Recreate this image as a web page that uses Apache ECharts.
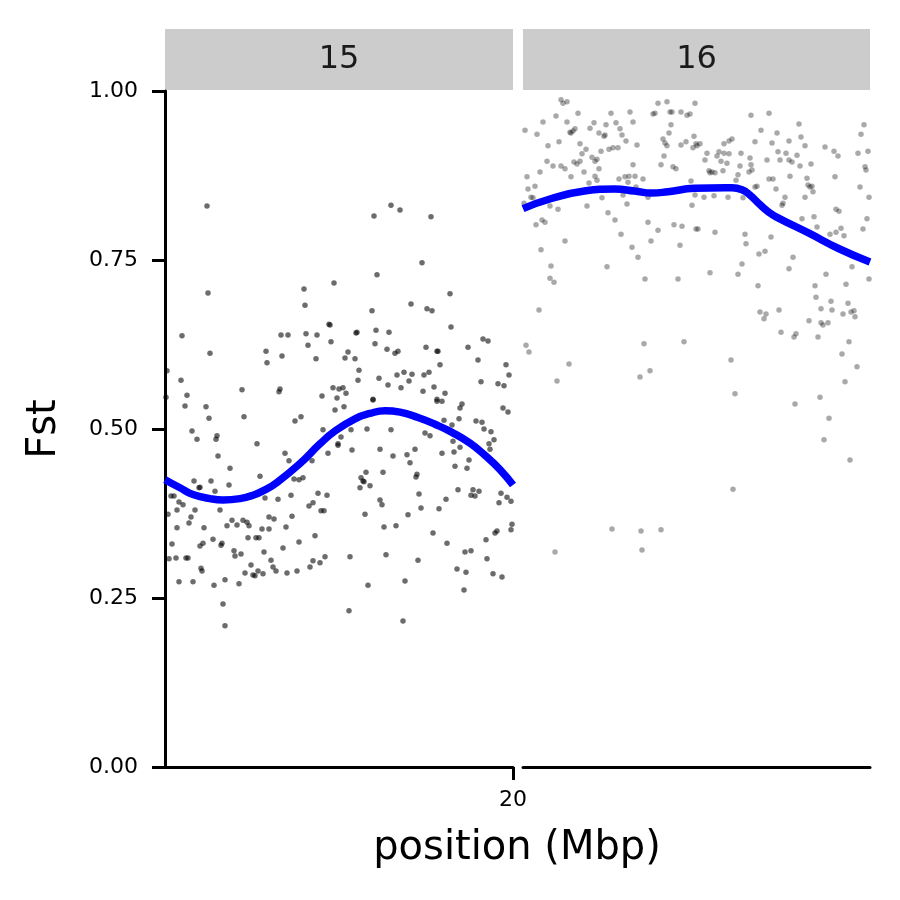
<!DOCTYPE html>
<html><head><meta charset="utf-8">
<script src="https://cdn.jsdelivr.net/npm/echarts@6/dist/echarts.min.js"></script>
<style>html,body{margin:0;padding:0;background:#fff}#c{width:900px;height:900px}</style>
</head><body><div id="c"></div>
<script>
// ---- data ----
const panels = ['15', '16'];
const yTicks = [0, 0.25, 0.5, 0.75, 1];
const xTicks15 = [20];
const xTitle = 'position (Mbp)';
const yTitle = 'Fst';

const pos15 = [19.388,19.390,19.582,19.642,19.584,19.338,19.394,19.536,19.550,19.586,19.608,19.632,19.634,19.590,19.636,19.506,19.508,19.538,19.606,19.308,
19.336,19.348,19.458,19.534,19.532,19.640,19.652,19.618,19.648,19.344,19.386,19.306,19.644,19.756,19.774,19.722,19.836,19.818,19.728,19.874,
19.796,19.718,19.828,19.838,19.876,19.686,19.688,19.726,19.752,19.724,19.748,19.764,19.770,19.826,19.848,19.850,19.854,19.940,19.950,19.910,
19.930,19.986,19.992,19.670,19.664,19.684,19.692,19.690,19.732,19.768,19.782,19.798,19.792,19.750,19.776,19.822,19.832,19.842,19.820,19.864,
19.848,19.858,19.936,19.970,19.982,19.660,19.666,19.720,19.662,19.898,19.894,19.980,19.392,19.462,19.564,19.576,19.358,19.368,19.408,19.406,
19.488,19.620,19.650,19.544,19.552,19.630,19.410,19.434,19.598,19.494,19.562,19.580,19.572,19.362,19.396,19.432,19.372,19.374,19.404,19.316,
19.322,19.504,19.530,19.556,19.610,19.628,19.592,19.600,19.332,19.340,19.364,19.310,19.328,19.414,19.616,19.622,19.356,19.352,19.328,19.382,
19.428,19.438,19.448,19.460,19.468,19.472,19.512,19.522,19.558,19.498,19.512,19.546,19.470,19.486,19.492,19.604,19.318,19.400,19.374,19.380,
19.416,19.418,19.572,19.540,19.312,19.326,19.346,19.350,19.442,19.444,19.456,19.502,19.516,19.600,19.614,19.624,19.376,19.378,19.476,19.520,
19.526,19.594,19.464,19.480,19.484,19.490,19.500,19.548,19.568,19.332,19.360,19.402,19.424,19.452,19.420,19.424,19.720,19.848,19.990,19.676,
19.708,19.756,19.656,19.650,19.678,19.734,19.760,19.788,19.804,19.794,19.824,19.834,19.862,19.878,19.892,19.926,19.938,19.942,19.956,19.962,
19.952,19.954,19.880,19.894,19.858,19.882,19.912,19.884,19.908,19.706,19.740,19.696,19.700,19.702,19.694,19.714,19.808,19.806,19.734,19.738,
19.812,19.866,19.890,19.920,19.916,19.924,19.932,19.976,19.988,19.972,19.996,19.704,19.816,19.790,19.852,19.742,19.766,19.840,19.868,19.946,
19.964,19.968,19.998,19.996,19.674,19.746,19.810,19.904,19.916,19.948,19.888,19.906,19.960,19.978,19.710,19.784,19.902,19.672,19.780];
const fst15 = [0.830,0.701,0.707,0.716,0.683,0.638,0.612,0.639,0.639,0.641,0.639,0.655,0.654,0.624,0.629,0.615,0.598,0.608,0.604,0.586,
0.572,0.550,0.558,0.559,0.555,0.561,0.559,0.549,0.546,0.534,0.533,0.547,0.528,0.831,0.824,0.815,0.814,0.746,0.728,0.700,
0.685,0.675,0.678,0.675,0.651,0.642,0.643,0.646,0.643,0.626,0.618,0.612,0.615,0.621,0.615,0.615,0.595,0.633,0.630,0.621,
0.602,0.595,0.580,0.614,0.605,0.604,0.587,0.572,0.575,0.580,0.584,0.581,0.571,0.565,0.561,0.580,0.584,0.562,0.556,0.553,
0.544,0.541,0.570,0.567,0.564,0.561,0.553,0.544,0.533,0.537,0.531,0.531,0.516,0.518,0.512,0.518,0.497,0.485,0.490,0.485,
0.478,0.499,0.478,0.464,0.453,0.464,0.460,0.442,0.453,0.430,0.426,0.428,0.425,0.423,0.423,0.417,0.413,0.414,0.408,0.401,
0.401,0.398,0.396,0.402,0.405,0.402,0.386,0.391,0.392,0.388,0.380,0.374,0.380,0.380,0.379,0.379,0.370,0.361,0.354,0.354,
0.357,0.365,0.358,0.365,0.362,0.357,0.370,0.367,0.371,0.352,0.352,0.355,0.339,0.339,0.339,0.342,0.330,0.337,0.327,0.331,
0.328,0.331,0.333,0.324,0.308,0.309,0.309,0.309,0.320,0.312,0.315,0.318,0.306,0.305,0.302,0.311,0.294,0.290,0.299,0.296,
0.290,0.296,0.287,0.284,0.283,0.290,0.286,0.287,0.290,0.274,0.274,0.269,0.277,0.271,0.241,0.209,0.543,0.541,0.525,0.499,
0.500,0.499,0.488,0.476,0.469,0.470,0.460,0.462,0.470,0.450,0.494,0.490,0.513,0.506,0.515,0.512,0.510,0.500,0.496,0.484,
0.478,0.470,0.482,0.473,0.464,0.466,0.454,0.445,0.442,0.436,0.436,0.428,0.423,0.422,0.413,0.416,0.433,0.429,0.395,0.388,
0.404,0.396,0.410,0.410,0.402,0.401,0.408,0.405,0.399,0.391,0.393,0.374,0.383,0.373,0.382,0.355,0.357,0.346,0.331,0.336,
0.346,0.349,0.359,0.351,0.311,0.314,0.306,0.318,0.320,0.308,0.293,0.288,0.286,0.281,0.269,0.275,0.262,0.231,0.216];

const pos16 = [10.176,10.188,10.180,10.370,10.388,10.444,10.166,10.210,10.276,10.314,10.364,10.360,10.394,10.398,10.416,10.428,10.434,10.140,10.188,10.242,
10.234,10.266,10.286,10.294,10.320,10.396,10.104,10.128,10.196,10.204,10.200,10.194,10.252,10.262,10.264,10.298,10.306,10.392,10.380,10.384,
10.388,10.442,10.446,10.426,10.416,10.172,10.214,10.150,10.226,10.218,10.328,10.272,10.280,10.290,10.256,10.440,10.382,10.238,10.248,10.244,
10.148,10.160,10.176,10.184,10.202,10.208,10.214,10.222,10.252,10.320,10.376,10.400,10.406,10.134,10.108,10.196,10.244,10.248,10.292,10.304,
10.312,10.324,10.310,10.340,10.124,10.110,10.232,10.326,10.436,10.116,10.120,10.258,10.300,10.350,10.444,10.102,10.308,10.154,10.170,10.228,
10.438,10.270,10.126,10.138,10.144,10.284,10.350,10.402,10.418,10.446,10.296,10.370,10.184,10.356,10.414,10.318,10.136,10.330,10.156,10.268,
10.154,10.162,10.344,10.410,10.556,10.592,10.652,10.782,10.776,10.576,10.608,10.656,10.518,10.512,10.502,10.564,10.598,10.632,10.664,10.454,
10.448,10.704,10.722,10.730,10.790,10.770,10.468,10.464,10.492,10.502,10.512,10.488,10.536,10.554,10.610,10.626,10.648,10.588,10.614,10.632,
10.638,10.496,10.508,10.556,10.558,10.552,10.534,10.654,10.676,10.784,10.786,10.472,10.478,10.484,10.474,10.500,10.530,10.526,10.634,10.592,
10.600,10.668,10.724,10.568,10.564,10.670,10.674,10.678,10.606,10.774,10.680,10.442,10.462,10.482,10.510,10.540,10.624,10.620,10.618,10.664,
10.792,10.726,10.732,10.658,10.682,10.688,10.788,10.450,10.484,10.544,10.596,10.714,10.726,10.736,10.742,10.780,10.546,10.584,10.572,10.640,
10.538,10.632,10.758,10.474,10.530,10.706,10.792,10.570,10.684,10.746,10.132,10.686,10.716,10.718,10.750,10.574,10.586,10.582,10.612,10.696,
10.740,10.756,10.762,10.764,10.672,10.696,10.700,10.710,10.616,10.642,10.646,10.690,10.752,10.106,10.112,10.342,10.422,10.738,10.192,10.516,
10.768,10.168,10.334,10.354,10.744,10.524,10.644,10.694,10.712,10.702,10.754,10.520,10.278,10.336,10.376,10.164,10.338];
const fst16 = [0.987,0.984,0.982,0.982,0.984,0.982,0.963,0.967,0.967,0.969,0.967,0.966,0.969,0.969,0.969,0.964,0.966,0.954,0.954,0.953,
0.945,0.950,0.953,0.944,0.954,0.950,0.942,0.936,0.938,0.944,0.941,0.939,0.938,0.933,0.935,0.935,0.926,0.938,0.929,0.923,
0.919,0.933,0.922,0.925,0.920,0.925,0.922,0.919,0.914,0.907,0.920,0.914,0.916,0.916,0.911,0.916,0.904,0.902,0.899,0.896,
0.896,0.889,0.889,0.885,0.895,0.892,0.896,0.880,0.885,0.891,0.891,0.888,0.885,0.880,0.873,0.873,0.874,0.868,0.870,0.873,
0.874,0.874,0.865,0.870,0.859,0.855,0.864,0.858,0.867,0.843,0.842,0.842,0.846,0.843,0.846,0.834,0.833,0.830,0.825,0.830,
0.831,0.820,0.802,0.809,0.806,0.809,0.806,0.802,0.800,0.796,0.788,0.794,0.778,0.778,0.772,0.769,0.765,0.754,0.741,0.740,
0.723,0.717,0.722,0.722,0.964,0.967,0.951,0.950,0.936,0.942,0.938,0.932,0.929,0.926,0.922,0.925,0.923,0.926,0.919,0.922,
0.919,0.917,0.911,0.904,0.911,0.908,0.908,0.898,0.910,0.908,0.907,0.904,0.908,0.901,0.910,0.908,0.905,0.898,0.898,0.898,
0.895,0.896,0.893,0.891,0.883,0.880,0.889,0.889,0.892,0.888,0.883,0.882,0.880,0.879,0.879,0.882,0.876,0.868,0.874,0.870,
0.870,0.871,0.873,0.859,0.858,0.861,0.858,0.859,0.855,0.858,0.851,0.855,0.843,0.845,0.843,0.842,0.843,0.834,0.831,0.843,
0.843,0.825,0.822,0.811,0.814,0.799,0.811,0.796,0.791,0.788,0.784,0.788,0.791,0.797,0.786,0.796,0.774,0.763,0.759,0.754,
0.744,0.737,0.740,0.731,0.729,0.729,0.722,0.712,0.712,0.714,0.676,0.695,0.689,0.676,0.686,0.673,0.670,0.663,0.676,0.678,
0.670,0.673,0.675,0.666,0.660,0.657,0.654,0.657,0.643,0.636,0.641,0.636,0.629,0.624,0.614,0.626,0.629,0.611,0.596,0.602,
0.592,0.571,0.577,0.586,0.570,0.552,0.537,0.547,0.516,0.484,0.454,0.411,0.352,0.349,0.351,0.318,0.321];

// loess curves
const smoothPos15 = [19.304,19.334,19.360,19.394,19.420,19.454,19.480,19.504,19.528,19.574,19.614,19.644,19.684,19.714,19.744,19.774,19.810,19.844,19.878,19.914,19.944,19.974,20.000];
const smoothFst15 = [0.425,0.413,0.403,0.397,0.395,0.397,0.402,0.410,0.421,0.449,0.478,0.497,0.515,0.523,0.527,0.525,0.517,0.507,0.495,0.479,0.461,0.440,0.417];
const smoothPos16 = [10.100,10.157,10.223,10.283,10.323,10.357,10.390,10.443,10.505,10.518,10.538,10.554,10.571,10.591,10.611,10.671,10.731,10.794];
const smoothFst16 = [0.826,0.841,0.852,0.855,0.852,0.849,0.851,0.856,0.857,0.857,0.854,0.846,0.834,0.821,0.812,0.790,0.767,0.747];

// ---- chart ----
const FONT = 'DejaVu Sans';
const zip = (a, b) => a.map((v, i) => [v, b[i]]);
const G = [
  { left: 165, top: 91, width: 348, height: 676 },
  { left: 523, top: 91, width: 347, height: 676 }
];
const axisLineStyle = { color: '#000', width: 3 };

const chart = echarts.init(document.getElementById('c'), null, { renderer: 'canvas' });
const option = {
  animation: false,
  backgroundColor: '#fff',
  grid: G.map(g => Object.assign({ containLabel: false }, g)),
  xAxis: [
    {
      gridIndex: 0, type: 'value', min: 19.304, max: 20,
      axisLine: { show: true, onZero: false, lineStyle: axisLineStyle },
      axisTick: { show: true, customValues: xTicks15, length: 13, lineStyle: axisLineStyle },
      axisLabel: { show: true, customValues: xTicks15, fontSize: 22, color: '#000', fontFamily: FONT, margin: 22,
        formatter: v => String(Math.round(v)) },
      splitLine: { show: false }
    },
    {
      gridIndex: 1, type: 'value', min: 10.1, max: 10.794,
      axisLine: { show: true, onZero: false, lineStyle: axisLineStyle },
      axisTick: { show: false }, axisLabel: { show: false }, splitLine: { show: false }
    }
  ],
  yAxis: [
    {
      gridIndex: 0, type: 'value', min: 0, max: 1, interval: 0.25,
      axisLine: { show: true, onZero: false, lineStyle: axisLineStyle },
      axisTick: { show: true, length: 13, lineStyle: axisLineStyle },
      axisLabel: { fontSize: 22, color: '#000', fontFamily: FONT, margin: 27,
        formatter: v => v.toFixed(2) },
      splitLine: { show: false }
    },
    { gridIndex: 1, type: 'value', min: 0, max: 1, show: false, splitLine: { show: false } }
  ],
  series: [
    { type: 'scatter', xAxisIndex: 0, yAxisIndex: 0, data: zip(pos15, fst15), symbolSize: 5.5,
      itemStyle: { color: 'rgba(0,0,0,0.72)' }, z: 2 },
    { type: 'scatter', xAxisIndex: 1, yAxisIndex: 1, data: zip(pos16, fst16), symbolSize: 5.5,
      itemStyle: { color: 'rgba(0,0,0,0.42)' }, z: 2 },
    { type: 'line', xAxisIndex: 0, yAxisIndex: 0, data: zip(smoothPos15, smoothFst15), smooth: 0.5,
      showSymbol: false, lineStyle: { color: '#0000ff', width: 7.5 }, z: 5 },
    { type: 'line', xAxisIndex: 1, yAxisIndex: 1, data: zip(smoothPos16, smoothFst16), smooth: 0.5,
      showSymbol: false, lineStyle: { color: '#0000ff', width: 7.5 }, z: 5 }
  ],
  graphic: [
    ...G.map((g, i) => ({
      type: 'group', left: g.left, top: 29,
      children: [
        { type: 'rect', shape: { x: 0, y: 0, width: g.width, height: 61 }, style: { fill: '#cccccc' } },
        { type: 'text', x: g.width / 2, y: 31, style: { text: panels[i], font: '32px "DejaVu Sans"',
          fill: '#1a1a1a', textAlign: 'center', textVerticalAlign: 'middle' } }
      ]
    })),
    { type: 'text', x: 517, y: 849, style: { text: xTitle, font: '40px "DejaVu Sans"', fill: '#000',
      textAlign: 'center', textVerticalAlign: 'middle' } },
    { type: 'text', x: 45, y: 429, rotation: Math.PI / 2, style: { text: yTitle, font: '40px "DejaVu Sans"', fill: '#000',
      textAlign: 'center', textVerticalAlign: 'middle' } }
  ]
};
chart.setOption(option);
</script>
</body></html>
